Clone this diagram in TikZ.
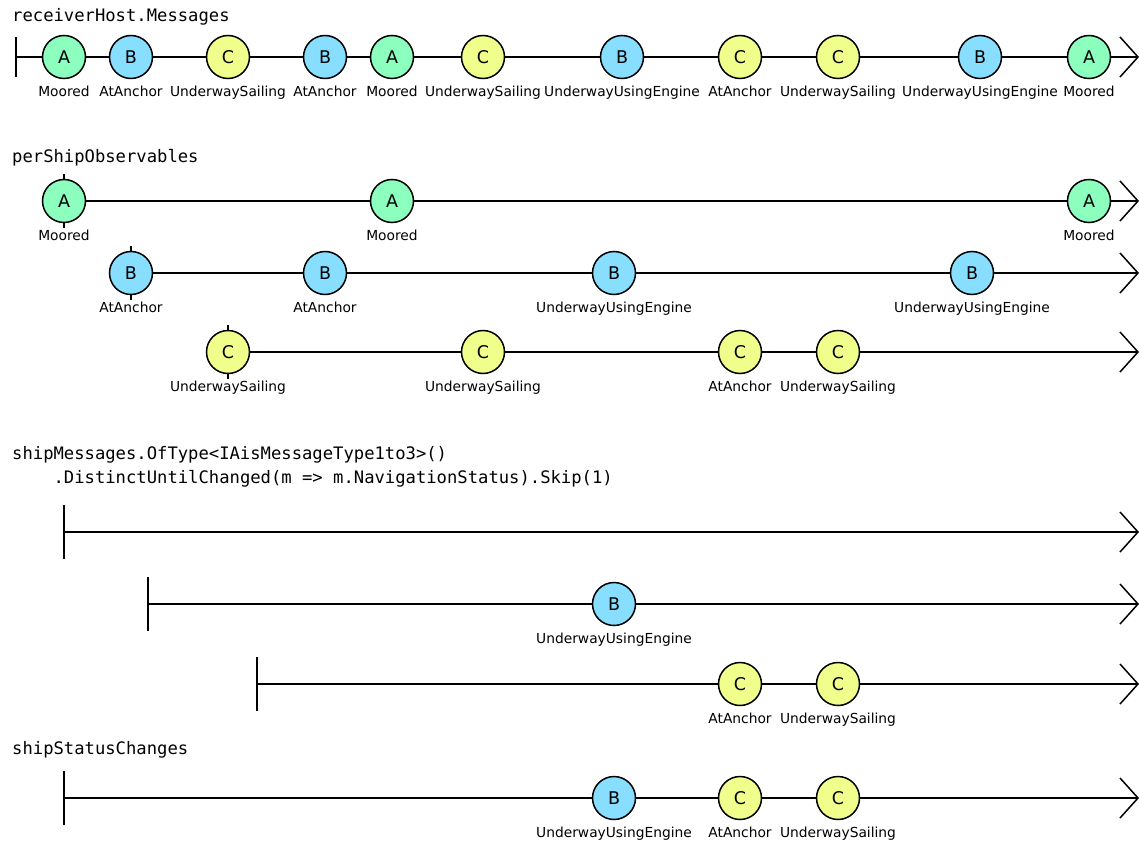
\documentclass[tikz,border=0pt]{standalone}
\usepackage{fontspec}
\setmainfont{DejaVu Sans}
\newfontfamily\codefont{DejaVu Sans Mono}
\definecolor{moored}{RGB}{140,255,190}
\definecolor{atanchor}{RGB}{135,222,255}
\definecolor{sailing}{RGB}{240,255,140}

% a marble: name, style, x, y, letter, status text
\newcommand\marble[6]{%
  \node[#2] (#1) at (#3,#4) {#5};
  \node[status] (#1l) at (#3,#4+39) {#6};
}
% a timeline: name, start x, y, half height of the start tick
\newcommand\timeline[4]{%
  \coordinate (#1s) at (#2,#3);
  \coordinate (#1e) at (1138,#3);
  \draw[tickmark] ([shift={(0,-#4)}]#1s) -- ([shift={(0,#4)}]#1s);
  \draw[axis] (#1s) -- (#1e);
  \draw[axis, line join=miter] ([shift={(-18,-20)}]#1e) -- (#1e) -- ([shift={(-18,20)}]#1e);
}

\begin{document}
\begin{tikzpicture}[x=1pt, y=-1pt,
  title/.style={anchor=base west, inner sep=0pt, font=\codefont\fontsize{17.2}{24}\selectfont},
  axis/.style={line width=1.5pt},
  tickmark/.style={line width=1.5pt},
  marblebase/.style={circle, draw=black, line width=1.5pt, minimum size=43pt,
                     inner sep=0pt, font=\fontsize{17.5}{18}\selectfont},
  ma/.style={marblebase, fill=moored},
  mb/.style={marblebase, fill=atanchor},
  mc/.style={marblebase, fill=sailing},
  status/.style={anchor=base, inner sep=0pt, font=\fontsize{13.8}{16}\selectfont},
]
\useasboundingbox (0,0) rectangle (1139,840);

% ---- receiverHost.Messages ----
\node[title] (t1) at (12,22) {receiverHost.Messages};
\timeline{r1}{16}{57}{20}
\marble{r1m1}{ma}{64}{57}{A}{Moored}
\marble{r1m2}{mb}{131}{57}{B}{AtAnchor}
\marble{r1m3}{mc}{228}{57}{C}{UnderwaySailing}
\marble{r1m4}{mb}{325}{57}{B}{AtAnchor}
\marble{r1m5}{ma}{392}{57}{A}{Moored}
\marble{r1m6}{mc}{483}{57}{C}{UnderwaySailing}
\marble{r1m7}{mb}{622}{57}{B}{UnderwayUsingEngine}
\marble{r1m8}{mc}{740}{57}{C}{AtAnchor}
\marble{r1m9}{mc}{838}{57}{C}{UnderwaySailing}
\marble{r1m10}{mb}{980}{57}{B}{UnderwayUsingEngine}
\marble{r1m11}{ma}{1089}{57}{A}{Moored}

% ---- perShipObservables ----
\node[title] (t2) at (12,162) {perShipObservables};
\timeline{r2}{64}{201}{27}
\marble{r2m1}{ma}{64}{201}{A}{Moored}
\marble{r2m2}{ma}{392}{201}{A}{Moored}
\marble{r2m3}{ma}{1089}{201}{A}{Moored}

\timeline{r3}{131}{273}{27}
\marble{r3m1}{mb}{131}{273}{B}{AtAnchor}
\marble{r3m2}{mb}{325}{273}{B}{AtAnchor}
\marble{r3m3}{mb}{614}{273}{B}{UnderwayUsingEngine}
\marble{r3m4}{mb}{972}{273}{B}{UnderwayUsingEngine}

\timeline{r4}{228}{352}{27}
\marble{r4m1}{mc}{228}{352}{C}{UnderwaySailing}
\marble{r4m2}{mc}{483}{352}{C}{UnderwaySailing}
\marble{r4m3}{mc}{740}{352}{C}{AtAnchor}
\marble{r4m4}{mc}{838}{352}{C}{UnderwaySailing}

% ---- shipMessages ... Skip(1) ----
\node[title] (t3a) at (12,459) {shipMessages.OfType<IAisMessageType1to3>()};
\node[title] (t3b) at (12,483) {\ \ \ \ .DistinctUntilChanged(m => m.NavigationStatus).Skip(1)};
\timeline{r5}{64}{532}{27}

\timeline{r6}{148}{604}{27}
\marble{r6m1}{mb}{614}{604}{B}{UnderwayUsingEngine}

\timeline{r7}{257}{684}{27}
\marble{r7m1}{mc}{740}{684}{C}{AtAnchor}
\marble{r7m2}{mc}{838}{684}{C}{UnderwaySailing}

% ---- shipStatusChanges ----
\node[title] (t4) at (12,754) {shipStatusChanges};
\timeline{r8}{64}{798}{27}
\marble{r8m1}{mb}{614}{798}{B}{UnderwayUsingEngine}
\marble{r8m2}{mc}{740}{798}{C}{AtAnchor}
\marble{r8m3}{mc}{838}{798}{C}{UnderwaySailing}
\end{tikzpicture}
\end{document}
